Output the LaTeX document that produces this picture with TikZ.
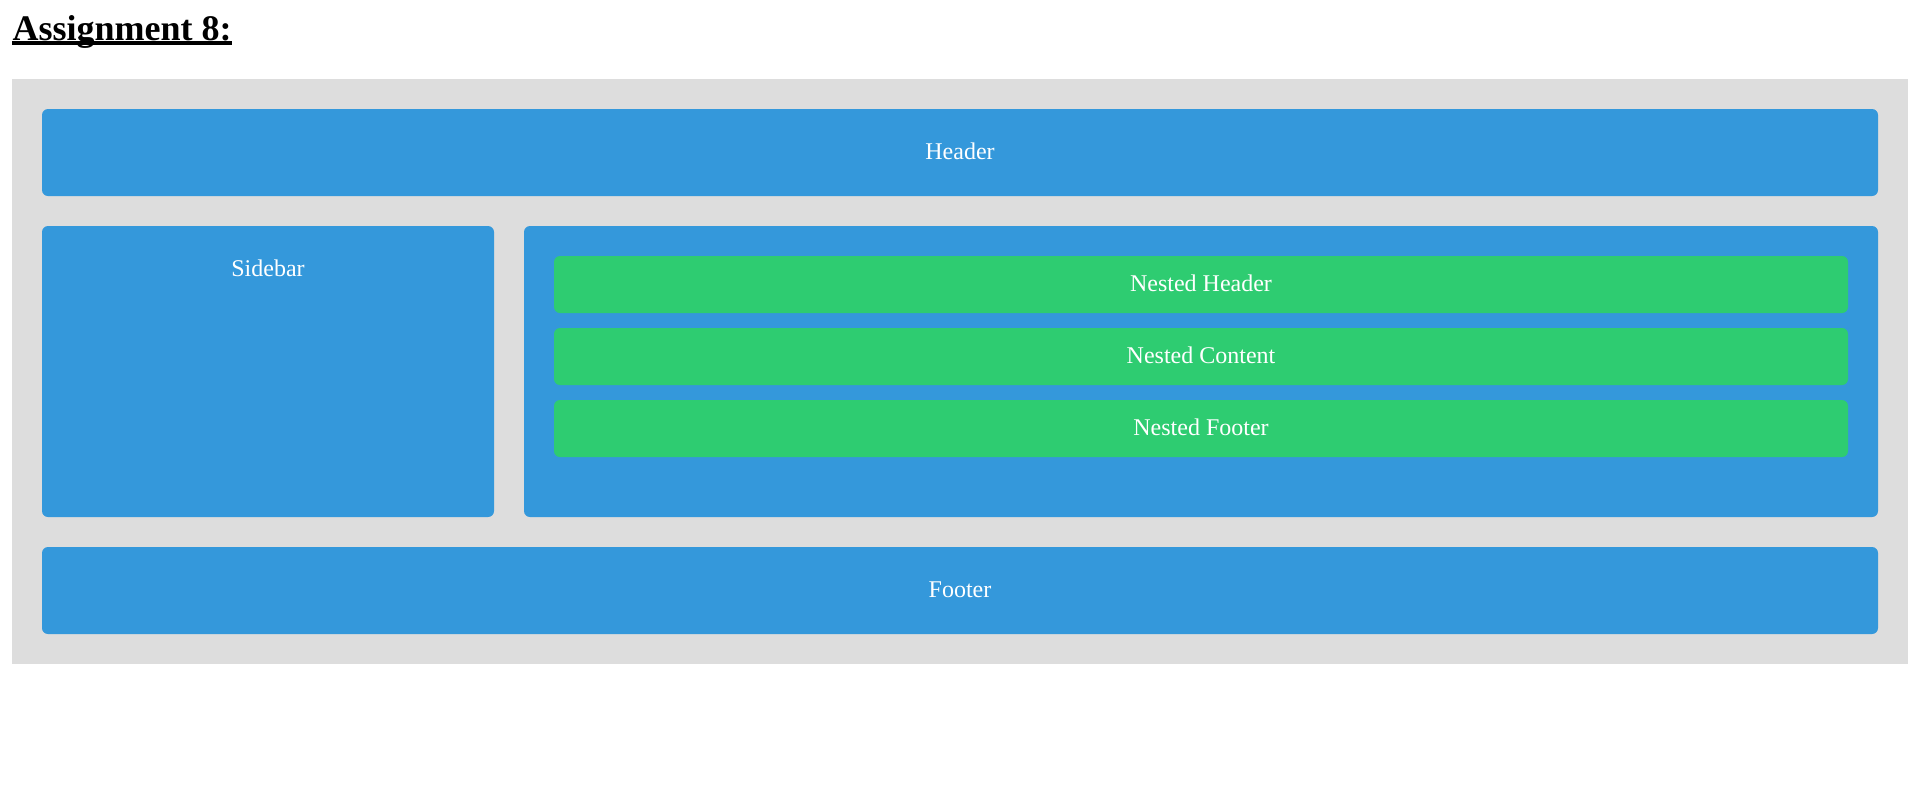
\documentclass[tikz,border=0pt]{standalone}
\usepackage{fontspec}
\setmainfont{Liberation Serif}
\usetikzlibrary{fit}
\definecolor{bluebox}{HTML}{3498DB}
\definecolor{greenbox}{HTML}{2ECC71}
\definecolor{graybg}{HTML}{DDDDDD}
\begin{document}
\begin{tikzpicture}[x=0.75pt,y=-0.75pt,
  panel/.style={fill=graybg, draw=none, inner sep=0pt},
  bluecard/.style={fill=bluebox, draw=none, inner sep=0pt, rounded corners=4.5pt},
  greencard/.style={fill=greenbox, draw=none, inner sep=0pt, rounded corners=4.5pt},
  lbl/.style={text=white, anchor=base, inner sep=0pt, font=\fontsize{18pt}{22pt}\selectfont},
  titletext/.style={anchor=base west, inner sep=0pt, font=\bfseries\fontsize{27pt}{32pt}\selectfont}]
\useasboundingbox (0,0) rectangle (1920,794);
\fill[white] (0,0) rectangle (1920,794);
% title
\node[titletext] (title) at (12.3,40) {Assignment 8:};
\draw[line width=2.4pt] ([yshift=-2.25pt]title.base west) -- ([yshift=-2.25pt]title.base east);
% container
\node[panel, fit={(12,79) (1908,664)}] (container) {};
% header
\node[bluecard, fit={(42,109) (1878,196)}] (header) {};
\node[lbl] (headerlbl) at (960,159.3) {Header};
% sidebar
\node[bluecard, fit={(42,226) (494,517)}] (sidebar) {};
\node[lbl] (sidebarlbl) at (268,276.7) {Sidebar};
% main
\node[bluecard, fit={(524,226) (1878,517)}] (main) {};
\node[greencard, fit={(554,256) (1848,313)}] (nheader) {};
\node[lbl] (nheaderlbl) at (1201,291.7) {Nested Header};
\node[greencard, fit={(554,328) (1848,385)}] (ncontent) {};
\node[lbl] (ncontentlbl) at (1201,363.3) {Nested Content};
\node[greencard, fit={(554,400) (1848,457)}] (nfooter) {};
\node[lbl] (nfooterlbl) at (1201,435.3) {Nested Footer};
% footer
\node[bluecard, fit={(42,547) (1878,634)}] (footer) {};
\node[lbl] (footerlbl) at (960,597.3) {Footer};
\end{tikzpicture}
\end{document}
